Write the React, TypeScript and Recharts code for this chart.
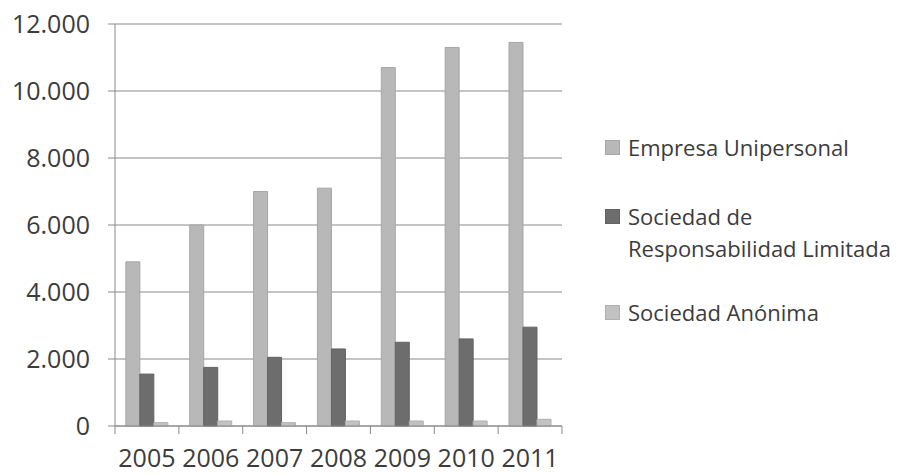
import { BarChart, Bar, XAxis, YAxis, CartesianGrid, Legend } from "recharts";

const years = ["2005", "2006", "2007", "2008", "2009", "2010", "2011"];
const unipersonal = [4900, 6000, 7000, 7100, 10700, 11300, 11450];
const limitada = [1550, 1750, 2050, 2300, 2500, 2600, 2950];
const anonima = [100, 150, 100, 150, 150, 150, 200];
const yTicks = [0, 2000, 4000, 6000, 8000, 10000, 12000];

const SERIES = [
  { key: "unipersonal", name: "Empresa Unipersonal", color: "#b8b8b8", stroke: "#a6a6a6" },
  { key: "limitada", name: "Sociedad de Responsabilidad Limitada", color: "#6d6d6d", stroke: "#636363" },
  { key: "anonima", name: "Sociedad Anónima", color: "#c2c2c2", stroke: "#b0b0b0" },
];

const data = years.map((year, i) => ({
  year,
  unipersonal: unipersonal[i],
  limitada: limitada[i],
  anonima: anonima[i],
}));

const FONT = "'Open Sans', sans-serif";
const TEXT = "#3c3c3c";
const AXIS = "#8a8a8a";

const fmt = (v: number) => String(v).replace(/\B(?=(\d{3})+(?!\d))/g, ".");

const YearTick = (props: any) => {
  const { x, y, payload, index } = props;
  const half = payload && payload.offset ? payload.offset : 32;
  return (
    <g>
      <line x1={x - half} y1={y} x2={x - half} y2={y + 8} stroke={AXIS} />
      {index === years.length - 1 && (
        <line x1={x + half} y1={y} x2={x + half} y2={y + 8} stroke={AXIS} />
      )}
      <text
        x={x}
        y={y + 32}
        dy="0.355em"
        textAnchor="middle"
        fill={TEXT}
        fontSize={25}
        fontFamily={FONT}
      >
        {payload.value}
      </text>
    </g>
  );
};

const LegendBox = () => {
  const gaps = [0, 37, 32];
  return (
    <div style={{ fontFamily: FONT, fontSize: 22, color: TEXT, lineHeight: "32px" }}>
      {SERIES.map((s, i) => (
        <div key={s.key} style={{ display: "flex", marginTop: gaps[i] }}>
          <div
            style={{
              width: 13,
              height: 13,
              marginTop: 9,
              marginRight: 8,
              background: s.color,
              border: `1px solid ${s.stroke}`,
              flexShrink: 0,
            }}
          />
          <div style={{ width: 275 }}>{s.name}</div>
        </div>
      ))}
    </div>
  );
};

const App = () => {
  return (
    <div style={{ position: "absolute", left: 0, top: 0, width: 902, height: 475, background: "#fff" }}>
      <BarChart
        width={902}
        height={475}
        data={data}
        margin={{ top: 24, right: 340, bottom: 0, left: 0 }}
        barCategoryGap="17%"
        barGap={0}
      >
        <CartesianGrid vertical={false} stroke={AXIS} />
        <XAxis
          dataKey="year"
          height={49}
          stroke={AXIS}
          tickLine={false}
          tickSize={0}
          tickMargin={0}
          tick={<YearTick />}
          interval={0}
        />
        <YAxis
          width={115}
          domain={[0, 12000]}
          ticks={yTicks}
          tickFormatter={fmt}
          stroke={AXIS}
          tickSize={7}
          tickMargin={18}
          tick={{ fill: TEXT, fontSize: 25, fontFamily: FONT }}
        />
        <Legend
          layout="vertical"
          align="center"
          verticalAlign="middle"
          content={<LegendBox />}
          wrapperStyle={{ left: 605, top: 131, width: 297 }}
        />
        {SERIES.map((s) => (
          <Bar
            key={s.key}
            dataKey={s.key}
            name={s.name}
            fill={s.color}
            stroke={s.stroke}
            strokeWidth={1}
            isAnimationActive={false}
          />
        ))}
      </BarChart>
    </div>
  );
};

export default App;
